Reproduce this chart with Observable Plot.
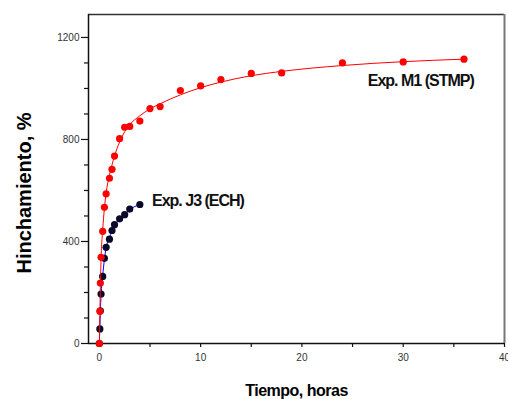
<!DOCTYPE html>
<html>
<head>
<meta charset="utf-8">
<script src="https://cdn.jsdelivr.net/npm/d3@7"></script>
<script src="https://cdn.jsdelivr.net/npm/@observablehq/plot@0.6"></script>
<style>
  html, body { margin: 0; padding: 0; background: #fff; }
  #chart { width: 508px; height: 399px; overflow: hidden; }
</style>
</head>
<body>
<div id="chart"></div>
<script>
// Exp. M1 (STMP) – measured points
const redTime = [0, 0.05, 0.1, 0.17, 0.33, 0.5, 0.67, 1, 1.25, 1.5, 2, 2.5, 3, 4, 5, 6, 8, 10, 12, 15, 18, 24, 30, 36];
const redValue = [0, 126, 237, 338, 440, 534, 587, 648, 683, 735, 803, 848, 851, 872, 921, 929, 992, 1010, 1035, 1059, 1061, 1100, 1104, 1115];
// Exp. M1 (STMP) – fitted curve
const redFitTime = [0, 0.05, 0.1, 0.17, 0.33, 0.5, 0.67, 1, 1.25, 1.5, 2, 2.5, 3, 4, 5, 6, 8, 10, 12, 15, 18, 24, 30, 36];
const redFitValue = [0, 110, 220, 330, 445, 530, 590, 660, 700, 735, 790, 830, 858, 893, 920, 940, 975, 1003, 1025, 1050, 1067, 1090, 1105, 1115];

// Exp. J3 (ECH) – measured points
const blackTime = [0, 0.05, 0.1, 0.17, 0.33, 0.5, 0.67, 1, 1.25, 1.5, 2, 2.5, 3, 4];
const blackValue = [0, 57, 128, 194, 263, 334, 377, 409, 443, 466, 489, 505, 527, 545];
// Exp. J3 (ECH) – fitted curve
const blueFitTime = [0, 0.05, 0.1, 0.17, 0.33, 0.5, 0.67, 1, 1.25, 1.5, 2, 2.5, 3, 4];
const blueFitValue = [0, 60, 125, 190, 265, 330, 375, 415, 440, 462, 488, 507, 525, 545];

// ticks
const xMajorTicks = [0, 10, 20, 30, 40];
const xMinorTicks = [5, 15, 25, 35];
const yMajorTicks = [0, 400, 800, 1200];
const yMinorTicks = [100, 200, 300, 500, 600, 700, 900, 1000, 1100];

// series labels
const seriesLabels = ["Exp. M1 (STMP)", "Exp. J3 (ECH)"];
const seriesLabelX = [26.5, 5.2];
const seriesLabelY = [1028, 561];

const xTitle = "Tiempo, horas";
const yTitle = "Hinchamiento, %";

const toRows = (xs, ys) => xs.map((x, i) => ({x, y: ys[i]}));
const red = toRows(redTime, redValue);
const redFit = toRows(redFitTime, redFitValue);
const black = toRows(blackTime, blackValue);
const blueFit = toRows(blueFitTime, blueFitValue);
const labels = seriesLabels.map((t, i) => ({t, x: seriesLabelX[i], y: seriesLabelY[i]}));

const xDomain = [-1.07, 40];
const yDomain = [0, 1290];
const font = "'Liberation Sans', Arial, sans-serif";
const plain = d => String(d);

const chart = Plot.plot({
  width: 508,
  height: 399,
  marginTop: 14,
  marginRight: 4,
  marginBottom: 56,
  marginLeft: 88,
  style: {fontFamily: font, background: "#fff", overflow: "visible"},
  x: {domain: xDomain, label: null},
  y: {domain: yDomain, label: null},
  marks: [
    // frame
    Plot.ruleY([yDomain[1]], {stroke: "#333", strokeWidth: 1.5}),
    Plot.ruleX([xDomain[1]], {stroke: "#777", strokeWidth: 2}),
    // axes
    Plot.axisX(xMajorTicks, {tickSize: 4, tickPadding: 6, fontSize: 10, fill: "#333", stroke: "#111", strokeWidth: 1.2, tickFormat: plain, label: null}),
    Plot.axisX(xMinorTicks, {tickSize: 4, tickFormat: () => "", stroke: "#111", strokeWidth: 1.2, label: null}),
    Plot.axisY(yMajorTicks, {tickSize: 7, tickPadding: 2, fontSize: 10, fill: "#333", stroke: "#111", strokeWidth: 1.2, tickFormat: plain, label: null}),
    Plot.axisY(yMinorTicks, {tickSize: 4, tickFormat: () => "", stroke: "#111", strokeWidth: 1.2, label: null}),
    Plot.ruleY([0], {stroke: "#111", strokeWidth: 1.5}),
    Plot.ruleX([xDomain[0]], {stroke: "#111", strokeWidth: 1.5}),
    // titles
    Plot.text([xTitle], {frameAnchor: "bottom", dy: 47, text: d => d, fontSize: 16, fontWeight: "bold", fill: "#000", lineAnchor: "middle", textAnchor: "middle"}),
    Plot.text([yTitle], {frameAnchor: "left", dx: -64, dy: 14, rotate: -90, text: d => d, fontSize: 20, fontWeight: "bold", fill: "#000", lineAnchor: "middle", textAnchor: "middle"}),
    // series
    Plot.line(blueFit, {x: "x", y: "y", stroke: "#0000ff", strokeWidth: 1, curve: "monotone-x"}),
    Plot.dot(black, {x: "x", y: "y", r: 3.6, fill: "#0a0a28", stroke: "none"}),
    Plot.line(redFit, {x: "x", y: "y", stroke: "#ff0000", strokeWidth: 1, curve: "monotone-x"}),
    Plot.dot(red, {x: "x", y: "y", r: 3.6, fill: "#ff0000", stroke: "none"}),
    Plot.text(labels, {x: "x", y: "y", text: "t", textAnchor: "start", lineAnchor: "middle", fontSize: 16, fontWeight: "bold", fill: "#111"})
  ]
});
d3.select(chart).selectAll("text").filter(function() { return this.textContent === "Exp. M1 (STMP)" || this.textContent === "Exp. J3 (ECH)"; }).style("letter-spacing", "-1px");
d3.select(chart).selectAll("text").filter(function() { return this.textContent === "Tiempo, horas"; }).style("letter-spacing", "-0.5px");
document.getElementById("chart").appendChild(chart);
</script>
</body>
</html>
